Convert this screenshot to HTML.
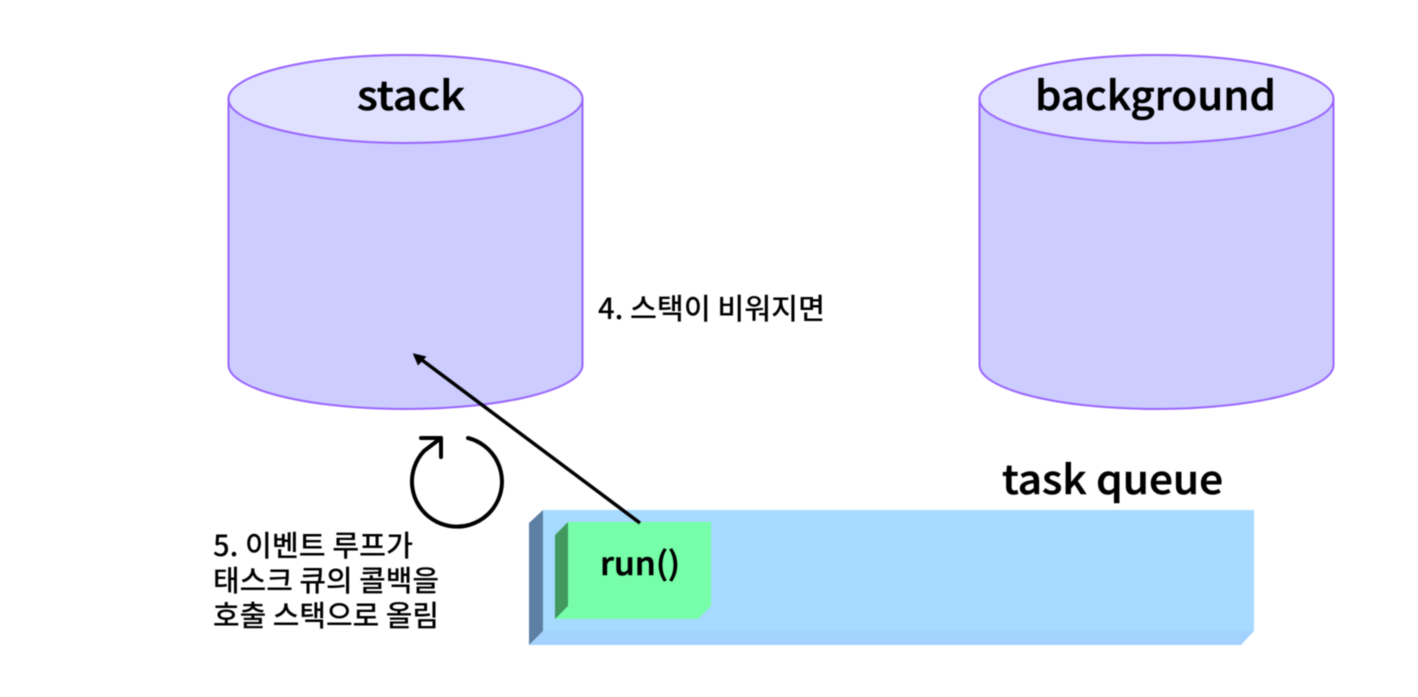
<!DOCTYPE html>
<html><head><meta charset="utf-8"><style>
html,body{margin:0;padding:0;background:#fff;width:1418px;height:697px;overflow:hidden}
svg{display:block;filter:blur(0.4px)}
text{font-family:"Noto Sans CJK KR","NanumGothic",sans-serif;font-weight:500;fill:#000}
.l{stroke:#000;stroke-width:.6px}
</style></head><body>
<svg width="1418" height="697" viewBox="0 0 1418 697" xmlns="http://www.w3.org/2000/svg">
<defs><g id="cyl">
<path d="M0 44 A177 44 0 0 1 354 44 V310 A177 44 0 0 1 0 310 Z" fill="#ccccff" stroke="#9966ff" stroke-width="2"/>
<ellipse cx="177" cy="44" rx="177" ry="44" fill="#e0e0ff" stroke="#9966ff" stroke-width="2"/>
</g></defs>
<use href="#cyl" x="228.5" y="55"/>
<use href="#cyl" x="979.5" y="55"/>
<text class="l" x="357" y="110" font-size="40" textLength="108" lengthAdjust="spacingAndGlyphs">stack</text>
<text class="l" x="1035" y="110" font-size="40" textLength="241" lengthAdjust="spacingAndGlyphs">background</text>
<text class="l" x="1002" y="494" font-size="40" textLength="221" lengthAdjust="spacingAndGlyphs">task queue</text>
<text x="598" y="319" font-size="29" textLength="227" lengthAdjust="spacingAndGlyphs">4. 스택이 비워지면</text>
<text x="213" y="556" font-size="29" textLength="200" lengthAdjust="spacingAndGlyphs">5. 이벤트 루프가</text>
<text x="213" y="591" font-size="29" textLength="226" lengthAdjust="spacingAndGlyphs">태스크 큐의 콜백을</text>
<text x="213" y="626" font-size="29" textLength="226" lengthAdjust="spacingAndGlyphs">호출 스택으로 올림</text>
<polygon points="543,510 1254,510 1254,631 543,631" fill="#a6daff"/>
<polygon points="543,631 1254,631 1241,645 529,645" fill="#a4d2fe"/>
<polygon points="529,523 543,510 543,631 529,645" fill="#5c7fa3"/>
<polygon points="568,522 711,522 711,606 698,619 555,619 568,606" fill="#76ffa8"/>
<polygon points="555,535 568,522 568,606 555,619" fill="#41995e"/>
<text class="l" x="600" y="575" font-size="32" textLength="80" lengthAdjust="spacingAndGlyphs">run()</text>
<line x1="640" y1="523" x2="422" y2="360" stroke="#000" stroke-width="3.5"/>
<polygon points="412.7,353.3 426.5,356.5 418,365.5" fill="#000"/>
<path d="M468 438 A45 45 0 1 1 424 451 L441 438" fill="none" stroke="#000" stroke-width="4" stroke-linecap="round" stroke-linejoin="round"/>
<path d="M421 438 H441 V457" fill="none" stroke="#000" stroke-width="4" stroke-linecap="round" stroke-linejoin="round"/>
</svg>
</body></html>
